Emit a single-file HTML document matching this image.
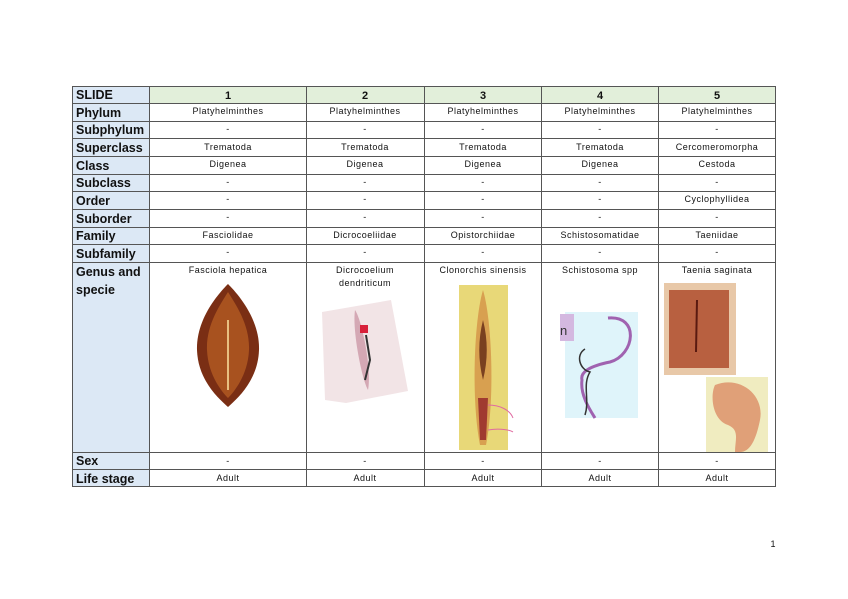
<!DOCTYPE html>
<html><head><meta charset="utf-8"><style>
html,body{margin:0;padding:0;background:#fff;}
svg{display:block;}
text{font-family:"Liberation Sans",sans-serif;}
.h{font-size:12.5px;font-weight:bold;fill:#111;}
.c{font-size:9px;letter-spacing:0.5px;fill:#111;text-anchor:middle;}
.n{font-size:11px;font-weight:bold;fill:#111;text-anchor:middle;}
</style></head><body>
<svg width="848" height="599" viewBox="0 0 848 599">
<rect width="848" height="599" fill="#fff"/>
<rect x="72" y="86" width="77" height="401" fill="#dce8f5"/>
<rect x="149" y="86" width="627" height="17" fill="#e2efda"/>
<g stroke="#555" stroke-width="1" fill="none">
<rect x="72.5" y="86.5" width="703" height="400"/>
<line x1="149.5" y1="86" x2="149.5" y2="487"/>
<line x1="306.5" y1="86" x2="306.5" y2="487"/>
<line x1="424.5" y1="86" x2="424.5" y2="487"/>
<line x1="541.5" y1="86" x2="541.5" y2="487"/>
<line x1="658.5" y1="86" x2="658.5" y2="487"/>
<line x1="72" y1="103.5" x2="776" y2="103.5"/>
<line x1="72" y1="121.5" x2="776" y2="121.5"/>
<line x1="72" y1="138.5" x2="776" y2="138.5"/>
<line x1="72" y1="156.5" x2="776" y2="156.5"/>
<line x1="72" y1="174.5" x2="776" y2="174.5"/>
<line x1="72" y1="191.5" x2="776" y2="191.5"/>
<line x1="72" y1="209.5" x2="776" y2="209.5"/>
<line x1="72" y1="227.5" x2="776" y2="227.5"/>
<line x1="72" y1="244.5" x2="776" y2="244.5"/>
<line x1="72" y1="262.5" x2="776" y2="262.5"/>
<line x1="72" y1="452.5" x2="776" y2="452.5"/>
<line x1="72" y1="469.5" x2="776" y2="469.5"/>
</g>
<g class="h">
<text x="76" y="99" class="h">SLIDE</text>
<text x="76" y="117" class="h">Phylum</text>
<text x="76" y="134" class="h">Subphylum</text>
<text x="76" y="152" class="h">Superclass</text>
<text x="76" y="170" class="h">Class</text>
<text x="76" y="187" class="h">Subclass</text>
<text x="76" y="205" class="h">Order</text>
<text x="76" y="223" class="h">Suborder</text>
<text x="76" y="240" class="h">Family</text>
<text x="76" y="258" class="h">Subfamily</text>
<text x="76" y="276" class="h">Genus and</text>
<text x="76" y="294" class="h">specie</text>
<text x="76" y="465" class="h">Sex</text>
<text x="76" y="483" class="h">Life stage</text>
</g>
<text x="228" y="99" class="n">1</text>
<text x="365" y="99" class="n">2</text>
<text x="483" y="99" class="n">3</text>
<text x="600" y="99" class="n">4</text>
<text x="717" y="99" class="n">5</text>
<g class="c">
<text x="228" y="114">Platyhelminthes</text><text x="365" y="114">Platyhelminthes</text><text x="483" y="114">Platyhelminthes</text><text x="600" y="114">Platyhelminthes</text><text x="717" y="114">Platyhelminthes</text>
<text x="228" y="132">-</text><text x="365" y="132">-</text><text x="483" y="132">-</text><text x="600" y="132">-</text><text x="717" y="132">-</text>
<text x="228" y="150">Trematoda</text><text x="365" y="150">Trematoda</text><text x="483" y="150">Trematoda</text><text x="600" y="150">Trematoda</text><text x="717" y="150">Cercomeromorpha</text>
<text x="228" y="167">Digenea</text><text x="365" y="167">Digenea</text><text x="483" y="167">Digenea</text><text x="600" y="167">Digenea</text><text x="717" y="167">Cestoda</text>
<text x="228" y="185">-</text><text x="365" y="185">-</text><text x="483" y="185">-</text><text x="600" y="185">-</text><text x="717" y="185">-</text>
<text x="228" y="202">-</text><text x="365" y="202">-</text><text x="483" y="202">-</text><text x="600" y="202">-</text><text x="717" y="202">Cyclophyllidea</text>
<text x="228" y="220">-</text><text x="365" y="220">-</text><text x="483" y="220">-</text><text x="600" y="220">-</text><text x="717" y="220">-</text>
<text x="228" y="238">Fasciolidae</text><text x="365" y="238">Dicrocoeliidae</text><text x="483" y="238">Opistorchiidae</text><text x="600" y="238">Schistosomatidae</text><text x="717" y="238">Taeniidae</text>
<text x="228" y="255">-</text><text x="365" y="255">-</text><text x="483" y="255">-</text><text x="600" y="255">-</text><text x="717" y="255">-</text>
<text x="228" y="273">Fasciola hepatica</text><text x="365" y="273">Dicrocoelium</text><text x="365" y="286">dendriticum</text><text x="483" y="273">Clonorchis sinensis</text><text x="600" y="273">Schistosoma spp</text><text x="717" y="273">Taenia saginata</text>
<text x="228" y="464">-</text><text x="365" y="464">-</text><text x="483" y="464">-</text><text x="600" y="464">-</text><text x="717" y="464">-</text>
<text x="228" y="481">Adult</text><text x="365" y="481">Adult</text><text x="483" y="481">Adult</text><text x="600" y="481">Adult</text><text x="717" y="481">Adult</text>
</g>
<path d="M228 284 C236 292 260 318 259 350 C258 380 238 398 228 407 C218 398 198 380 197 350 C196 318 220 292 228 284Z" fill="#7a2e14"/>
<path d="M228 292 C236 305 250 325 249 350 C248 375 234 392 228 398 C222 392 208 375 207 350 C206 325 220 305 228 292Z" fill="#a8521f"/>
<line x1="228" y1="320" x2="228" y2="390" stroke="#e8c080" stroke-width="2"/>
<polygon points="322,312 391,300 408,391 346,403 325,400" fill="#f2e4e6"/>
<path d="M355 310 C362 320 372 370 368 390 C362 380 352 330 355 310Z" fill="#d4a8b4"/>
<rect x="360" y="325" width="8" height="8" fill="#d8203a"/>
<path d="M366 335 L370 360 L365 380" stroke="#333" stroke-width="2" fill="none"/>
<rect x="459" y="285" width="49" height="165" fill="#e8d878"/>
<path d="M483 290 C492 320 495 400 486 445 L480 445 C471 400 474 320 483 290Z" fill="#d8a050"/>
<path d="M483 320 C488 340 488 360 483 380 C478 360 478 340 483 320Z" fill="#7a4020"/>
<path d="M478 398 L488 398 L486 440 L480 440Z" fill="#a03a30"/>
<path d="M488 405 C500 405 510 410 513 418 M488 430 C500 428 510 430 513 432" stroke="#e06aa0" fill="none"/>
<rect x="565" y="312" width="73" height="106" fill="#dff4fa"/>
<rect x="560" y="314" width="14" height="27" fill="#d4b8e0"/>
<text x="560" y="335" font-size="13" fill="#333">n</text>
<path d="M608 318 C640 315 635 355 610 362 C590 366 580 372 582 380 C580 395 590 410 595 418" stroke="#a062b0" stroke-width="3" fill="none"/>
<path d="M585 349 C575 355 580 370 590 372 C582 385 590 400 585 415" stroke="#333" stroke-width="1.5" fill="none"/>
<rect x="664" y="283" width="72" height="92" fill="#e8c8a8"/>
<rect x="669" y="290" width="60" height="78" fill="#b86040"/>
<line x1="697" y1="300" x2="696" y2="352" stroke="#5a1a10" stroke-width="2"/>
<rect x="706" y="377" width="62" height="75" fill="#f0ecc0"/>
<path d="M715 385 C740 375 765 395 760 420 C756 440 750 452 740 452 L735 452 C735 440 740 430 728 425 C712 420 710 395 715 385Z" fill="#e0a078"/>
<text x="773" y="547" font-size="9" fill="#111" text-anchor="middle">1</text>
</svg>
</body></html>
